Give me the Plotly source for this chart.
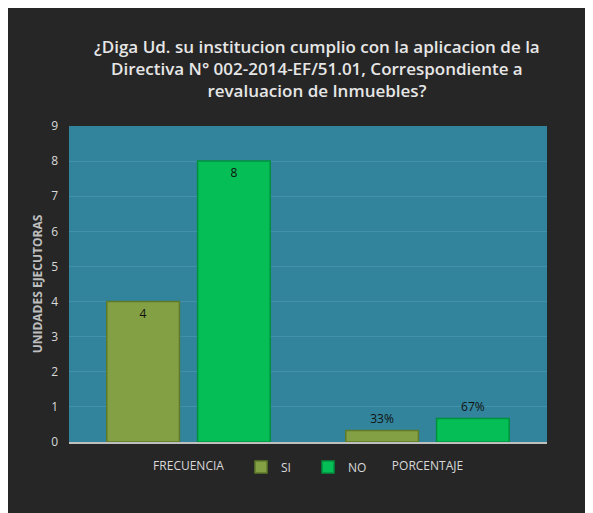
import plotly.graph_objects as go

categories = ["FRECUENCIA", "PORCENTAJE"]
si_values = [4, 0.33]
no_values = [8, 0.67]
si_labels = ["4", "33%"]
no_labels = ["8", "67%"]
y_ticks = list(range(0, 10))

title_text = ("¿Diga Ud. su institucion cumplio con la aplicacion de la<br>"
              "Directiva N° 002-2014-EF/51.01, Correspondiente a<br>"
              "revaluacion de Inmuebles?")

fig = go.Figure()
fig.add_trace(go.Bar(
    name="SI", x=categories, y=si_values, text=si_labels,
    textposition=["inside", "outside"], insidetextanchor="end",
    textfont=dict(color="#111111", size=12, family="Open Sans"),
    marker=dict(color="#84A044", line=dict(color="#5E7A2A", width=1.5)),
    cliponaxis=False,
))
fig.add_trace(go.Bar(
    name="NO", x=categories, y=no_values, text=no_labels,
    textposition=["inside", "outside"], insidetextanchor="end",
    textfont=dict(color="#111111", size=12, family="Open Sans"),
    marker=dict(color="#06BE56", line=dict(color="#00913F", width=1.5)),
    cliponaxis=False,
))

fig.update_layout(
    width=585, height=505,
    margin=dict(l=61, r=46, t=118, b=71),
    paper_bgcolor="#262626",
    plot_bgcolor="#31849B",
    barmode="group", bargap=0.24, bargroupgap=0.2,
    font=dict(family="Open Sans", color="#d9d9d9", size=12),
    title=dict(text=title_text, x=0.528, xanchor="center", y=0.911, yanchor="middle",
               font=dict(family="Open Sans", size=17, color="#e6e6e6", weight=600)),
    showlegend=True,
    legend=dict(orientation="h", x=0.5, xanchor="center", y=-0.079, yanchor="middle",
                font=dict(size=12, color="#d9d9d9"), bgcolor="rgba(0,0,0,0)",
                itemwidth=30, entrywidth=22, entrywidthmode="pixels"),
)
fig.update_xaxes(showgrid=False, showline=True, linecolor="#bfbfbf", linewidth=1.5,
                 tickfont=dict(size=12, color="#d9d9d9"), ticks="", ticklabelstandoff=12)
fig.update_yaxes(range=[0, 9], tickvals=y_ticks, showgrid=True, gridcolor="#4391A8",
                 gridwidth=1, zeroline=False, showline=False,
                 tickfont=dict(size=12, color="#d9d9d9"), ticklabelstandoff=10,
                 title=dict(text="<b>UNIDADES EJECUTORAS</b>", font=dict(size=12, color="#bfbfbf"),
                            standoff=5))

fig.write_html("out.html")
